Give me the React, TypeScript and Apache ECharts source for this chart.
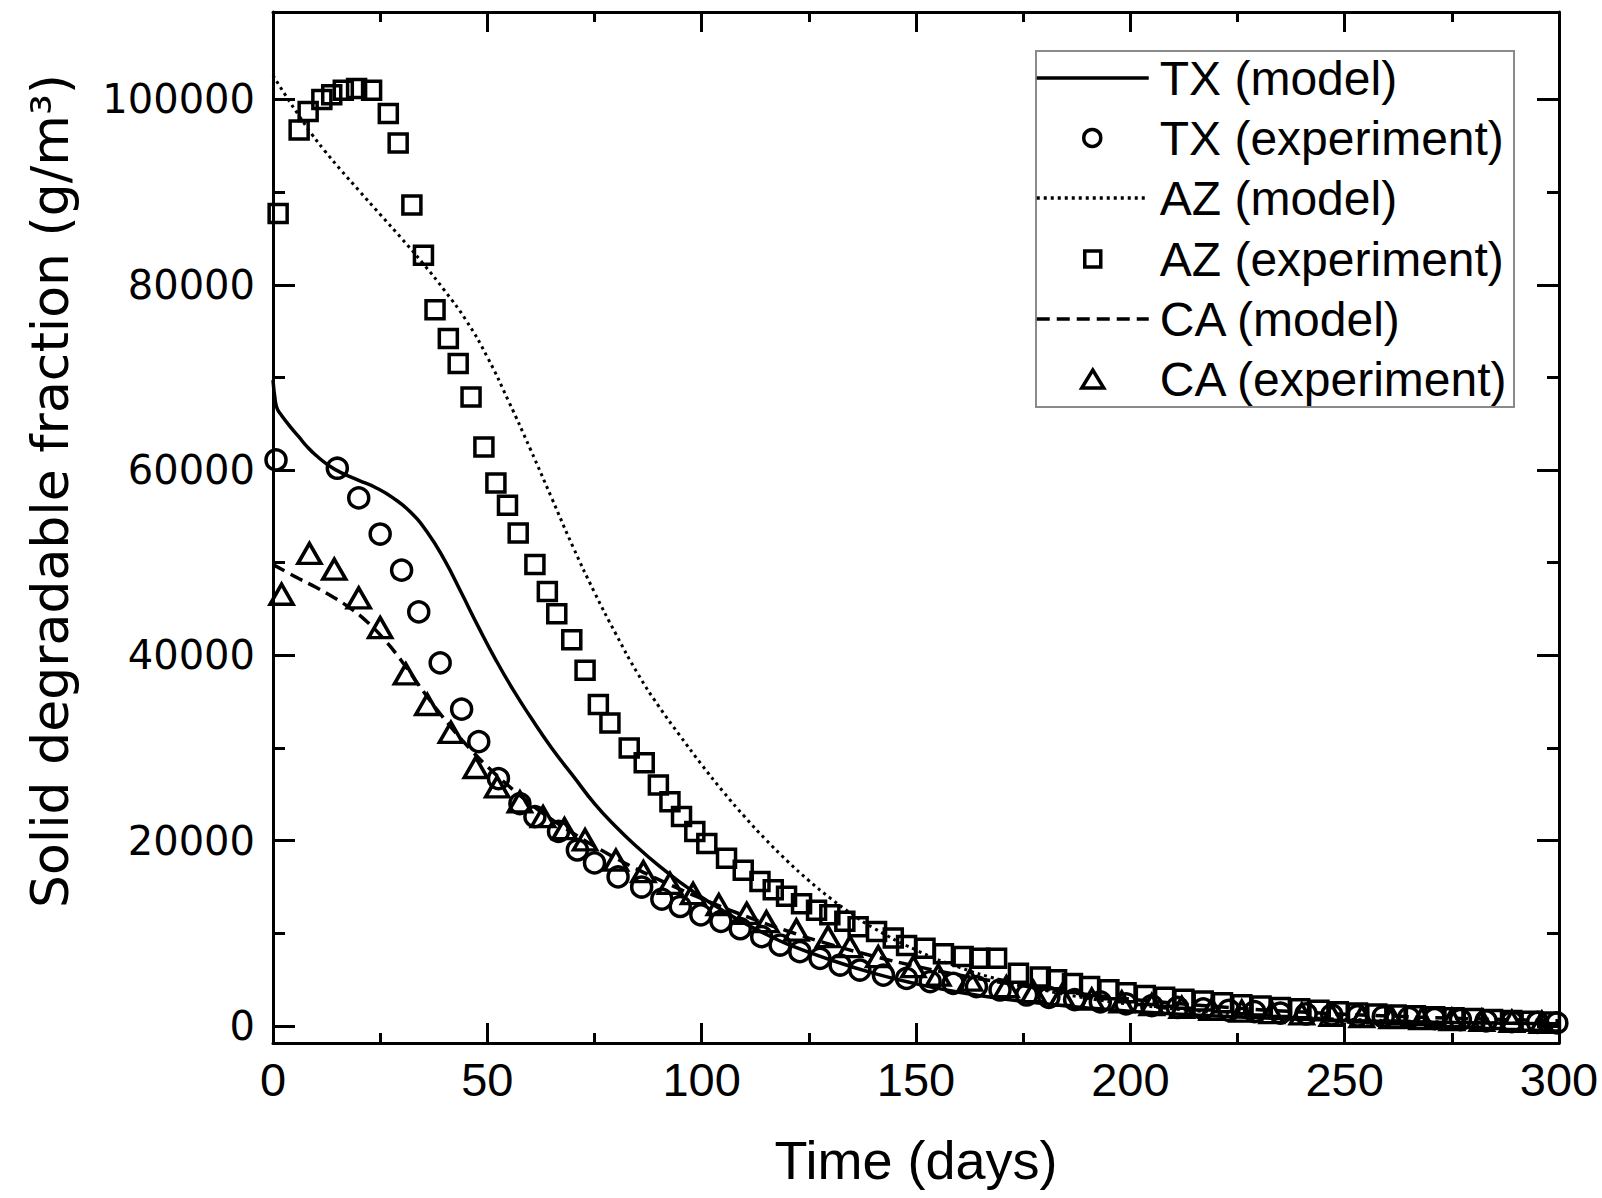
import React, { useEffect, useRef } from "react";
import * as echarts from "echarts";

// ---------- data ----------
const txModelDays = [0, 0.5, 1, 2, 4, 6, 8, 10, 13, 16, 20, 24, 28, 32, 36, 40, 44, 48, 52, 56, 60, 65, 70, 75, 80, 85, 90, 95, 100, 105, 110, 115, 120, 130, 140, 150, 160, 170, 180, 190, 200, 220, 240, 260, 280, 300];
const txModelValues = [69700, 67600, 66600, 65900, 64700, 63600, 62500, 61600, 60500, 59700, 58900, 58100, 57000, 55500, 53300, 50300, 46700, 43000, 39500, 36300, 33400, 30000, 27000, 24000, 21500, 19300, 17300, 15500, 13900, 12450, 11100, 9900, 8850, 7150, 5700, 4550, 3650, 2950, 2400, 1950, 1600, 1080, 730, 500, 340, 230];

const azModelDays = [0, 3, 6, 9, 12, 16, 20, 25, 30, 35, 40, 45, 50, 55, 60, 65, 70, 75, 80, 85, 90, 95, 100, 105, 110, 115, 120, 125, 130, 135, 140, 150, 160, 170, 180, 190, 200, 220, 240, 260, 280, 300];
const azModelValues = [102600, 100400, 98300, 96300, 94500, 92300, 90200, 87600, 85000, 82300, 79400, 76200, 72200, 67400, 62300, 57000, 51700, 46800, 42300, 38100, 34500, 31300, 28200, 25300, 22600, 20100, 17800, 15700, 13800, 12100, 10600, 8200, 6350, 4950, 3850, 3000, 2350, 1450, 920, 590, 380, 250];

const caModelDays = [0, 3, 6, 10, 14, 18, 22, 26, 30, 34, 38, 42, 46, 50, 55, 60, 65, 70, 75, 80, 85, 90, 95, 100, 110, 120, 130, 140, 150, 160, 170, 180, 190, 200, 220, 240, 260, 280, 300];
const caModelValues = [49800, 49050, 48300, 47350, 46300, 45100, 43600, 41700, 39400, 36800, 34300, 32000, 29900, 28000, 25900, 24000, 22300, 20800, 19400, 18100, 16900, 15800, 14750, 13750, 11900, 10250, 8800, 7550, 6450, 5500, 4700, 4000, 3400, 2900, 2100, 1500, 1080, 780, 560];

const txExpDays = [0.7, 15, 20, 25, 30, 34, 39, 44, 48, 52.6, 57.6, 61.1, 66.6, 71, 75, 80.5, 86, 90.7, 95, 99.8, 104.5, 109, 114, 118.3, 122.9, 127.6, 132.3, 136.9, 142.4, 147.8, 153.3, 158.7, 164.1, 169.6, 175.8, 181, 187, 193, 199, 205, 211, 217, 223, 229, 235, 241, 247, 253, 259, 265, 271, 277, 283, 289, 295, 299.5];
const txExpValues = [61100, 60200, 57000, 53100, 49200, 44700, 39200, 34200, 30700, 26700, 24000, 22600, 21000, 19000, 17600, 16100, 15000, 13700, 12900, 12000, 11300, 10500, 9640, 8740, 8020, 7300, 6580, 6040, 5500, 5140, 4790, 4610, 4250, 3890, 3350, 3100, 2850, 2600, 2400, 2200, 2000, 1850, 1700, 1550, 1400, 1300, 1200, 1100, 1000, 900, 800, 680, 560, 480, 400, 330];

const azExpDays = [1.2, 6.1, 8.2, 11.4, 13.7, 16.4, 19.5, 23.0, 26.9, 29.2, 32.4, 35.1, 37.8, 40.9, 43.2, 46.2, 49.2, 52.0, 54.7, 57.2, 61.1, 64.0, 66.2, 69.7, 72.8, 75.9, 78.6, 83.1, 86.6, 89.9, 92.6, 95.3, 98.4, 101.2, 105.8, 109.7, 113.6, 116.7, 119.8, 123.3, 126.8, 129.9, 133.4, 136.5, 140.8, 144.7, 147.8, 152.1, 156.4, 161.0, 164.9, 168.8, 173.9, 179.0, 182.8, 186.5, 190.5, 195, 199, 203.5, 208, 212.5, 217, 221.5, 226, 230.5, 235, 239.5, 244, 248.5, 253, 257.5, 262, 266.5, 271, 275.5, 280, 284.5, 289, 293.5, 298];
const azExpValues = [87700, 96700, 98700, 100000, 100500, 101000, 101200, 101000, 98500, 95300, 88600, 83200, 77300, 74200, 71500, 67900, 62500, 58600, 56200, 53200, 49800, 46900, 44500, 41700, 38400, 34700, 32700, 30000, 28400, 26000, 24200, 22600, 21000, 19700, 18100, 16800, 15600, 14700, 14000, 13200, 12500, 12000, 11300, 10700, 10200, 9500, 8700, 8400, 7800, 7500, 7300, 7300, 5700, 5300, 5000, 4600, 4250, 3900, 3600, 3300, 3100, 2900, 2700, 2500, 2300, 2150, 2000, 1850, 1700, 1550, 1400, 1300, 1200, 1100, 1000, 900, 800, 700, 600, 500, 420];

const caExpDays = [2, 8.5, 14.3, 20, 25, 31, 36, 41.5, 47.3, 52.3, 57.6, 63, 68, 72.8, 80, 86.4, 92.6, 98, 104, 110.5, 115.1, 122.1, 129.5, 134.6, 141.2, 149.4, 155.2, 162.6, 171.1, 177.4, 184, 191, 198, 205, 212, 219, 226, 233, 240, 247, 254, 261, 268, 275, 282, 289, 296];
const caExpValues = [46600, 51000, 49300, 46200, 43000, 38000, 34700, 31700, 27900, 25800, 24200, 22600, 21300, 20100, 17900, 16650, 15400, 14300, 13100, 12160, 11260, 10360, 9640, 8560, 7480, 6400, 5500, 4960, 4250, 3700, 3300, 2900, 2600, 2300, 2000, 1800, 1600, 1450, 1300, 1150, 1000, 900, 800, 700, 600, 500, 400];

const legendNames = ["TX (model)", "TX (experiment)", "AZ (model)", "AZ (experiment)", "CA (model)", "CA (experiment)"];

const xTitle = "Time (days)";
const yTitle = "Solid degradable fraction (g/m³)";

const INK = "#000";

const pairs = (xs: number[], ys: number[]) => xs.map((x, i) => [x, ys[i]]);

function buildOption() {
  const axisLineStyle = { color: INK, width: 3 };
  const commonX = {
    type: "value",
    min: 0,
    max: 300,
    interval: 50,
    splitLine: { show: false },
    minorSplitLine: { show: false },
    axisLine: { show: true, onZero: false, lineStyle: axisLineStyle },
    axisTick: { show: true, inside: true, length: 20, lineStyle: { color: INK, width: 3 } },
    minorTick: { show: true, splitNumber: 2, length: 10, lineStyle: { color: INK, width: 3 } },
  };
  const commonY = {
    type: "value",
    min: -1835,
    max: 109444,
    splitNumber: 5,
    minInterval: 20000,
    maxInterval: 20000,
    splitLine: { show: false },
    minorSplitLine: { show: false },
    axisLine: { show: true, onZero: false, lineStyle: axisLineStyle },
    axisTick: { show: true, inside: true, length: 22, lineStyle: { color: INK, width: 3 } },
    minorTick: { show: true, splitNumber: 2, length: 12, lineStyle: { color: INK, width: 3 } },
  };

  const markerStyle = { color: "rgba(0,0,0,0)", borderColor: INK, borderWidth: 3.5, opacity: 1 };

  type Row = { name: string; kind: "line" | "circle" | "rect" | "triangle"; y: number; dash?: any };
  const rows: Row[] = [
    { name: legendNames[0], kind: "line", y: 78, dash: "solid" },
    { name: legendNames[1], kind: "circle", y: 138 },
    { name: legendNames[2], kind: "line", y: 198, dash: [3, 4] },
    { name: legendNames[3], kind: "rect", y: 259 },
    { name: legendNames[4], kind: "line", y: 319, dash: [13, 7] },
    { name: legendNames[5], kind: "triangle", y: 379 },
  ];

  const legends = rows.map((r) => {
    const isLine = r.kind === "line";
    let w = 112, h = 14, left = 1035;
    if (r.kind === "circle") { w = 17; h = 17; left = 1082; }
    if (r.kind === "rect") { w = 16; h = 16; left = 1083; }
    if (r.kind === "triangle") { w = 22; h = 18; left = 1080; }
    const textX = 1158;
    const pad = textX - (left + w + 5);
    return {
      show: true,
      orient: "horizontal",
      left,
      top: r.y - 24,
      padding: 0,
      itemWidth: w,
      itemHeight: h,
      selectedMode: false,
      data: [isLine ? { name: r.name } : { name: r.name, icon: r.kind }],
      textStyle: {
        fontFamily: "'Liberation Sans', Arial, sans-serif",
        fontSize: 48,
        lineHeight: 48,
        color: INK,
        padding: [0, 0, 0, pad],
      },
      itemStyle: isLine
        ? { opacity: 0 }
        : { color: "rgba(0,0,0,0)", borderColor: INK, borderWidth: 3.5, opacity: 1 },
      lineStyle: isLine ? { color: INK, width: 3.5, type: r.dash, opacity: 1 } : undefined,
    };
  });

  return {
    animation: false,
    backgroundColor: "#ffffff",
    grid: { left: 273, right: 43, top: 12, bottom: 155, containLabel: false, outerBoundsMode: "none" },
    xAxis: [
      {
        ...commonX,
        position: "bottom",
        name: xTitle,
        nameLocation: "middle",
        nameGap: 90,
        nameTextStyle: { fontFamily: "'Liberation Sans', Arial, sans-serif", fontSize: 54, color: INK },
        axisLabel: {
          show: true,
          margin: 13,
          fontFamily: "'Liberation Sans Narrow', 'Arial Narrow', 'Liberation Sans', sans-serif",
          fontSize: 47,
          color: INK,
        },
      },
      { ...commonX, position: "top", axisLabel: { show: false } },
    ],
    yAxis: [
      {
        ...commonY,
        position: "left",
        axisLabel: {
          show: true,
          margin: 18,
          showMinLabel: false,
          showMaxLabel: false,
          formatter: (v: number) => String(Math.round(v)),
          fontFamily: "'DejaVu Sans', sans-serif",
          fontSize: 40,
          color: INK,
        },
      },
      { ...commonY, position: "right", axisLabel: { show: false } },
    ],
    legend: legends,
    graphic: [
      {
        type: "rect",
        z: 1,
        shape: { x: 1036, y: 51, width: 478, height: 356 },
        style: { fill: "rgba(0,0,0,0)", stroke: "#8a8a8a", lineWidth: 2 },
      },
      {
        type: "text",
        x: 50,
        y: 491,
        rotation: Math.PI / 2,
        style: {
          text: yTitle,
          fontFamily: "'DejaVu Sans', sans-serif",
          fontSize: 52,
          fill: INK,
          align: "center",
          verticalAlign: "middle",
          textAlign: "center",
          textVerticalAlign: "middle",
        },
      },
    ],
    series: [
      {
        name: legendNames[0],
        type: "line",
        data: pairs(txModelDays, txModelValues),
        symbol: "none",
        smooth: 0.5,
        lineStyle: { color: INK, width: 3.5, type: "solid" },
        itemStyle: { color: INK },
        z: 3,
      },
      {
        name: legendNames[1],
        type: "scatter",
        data: pairs(txExpDays, txExpValues),
        symbol: "circle",
        symbolSize: 20,
        itemStyle: markerStyle,
        z: 4,
      },
      {
        name: legendNames[2],
        type: "line",
        data: pairs(azModelDays, azModelValues),
        symbol: "none",
        smooth: 0.5,
        lineStyle: { color: INK, width: 3, type: [3, 4] },
        itemStyle: { color: INK },
        z: 3,
      },
      {
        name: legendNames[3],
        type: "scatter",
        data: pairs(azExpDays, azExpValues),
        symbol: "rect",
        symbolSize: 18,
        itemStyle: markerStyle,
        z: 4,
      },
      {
        name: legendNames[4],
        type: "line",
        data: pairs(caModelDays, caModelValues),
        symbol: "none",
        smooth: 0.5,
        lineStyle: { color: INK, width: 3.5, type: [13, 7] },
        itemStyle: { color: INK },
        z: 3,
      },
      {
        name: legendNames[5],
        type: "scatter",
        data: pairs(caExpDays, caExpValues),
        symbol: "triangle",
        symbolSize: [23, 20],
        itemStyle: markerStyle,
        z: 4,
      },
    ],
  };
}

export default function App() {
  const ref = useRef<HTMLDivElement | null>(null);
  useEffect(() => {
    if (!ref.current) return;
    const chart = echarts.init(ref.current, undefined, { renderer: "svg" });
    chart.setOption(buildOption() as any);
    return () => chart.dispose();
  }, []);
  return (
    <div
      ref={ref}
      style={{ position: "absolute", left: 0, top: 0, width: 1602, height: 1198, background: "#fff" }}
    />
  );
}
